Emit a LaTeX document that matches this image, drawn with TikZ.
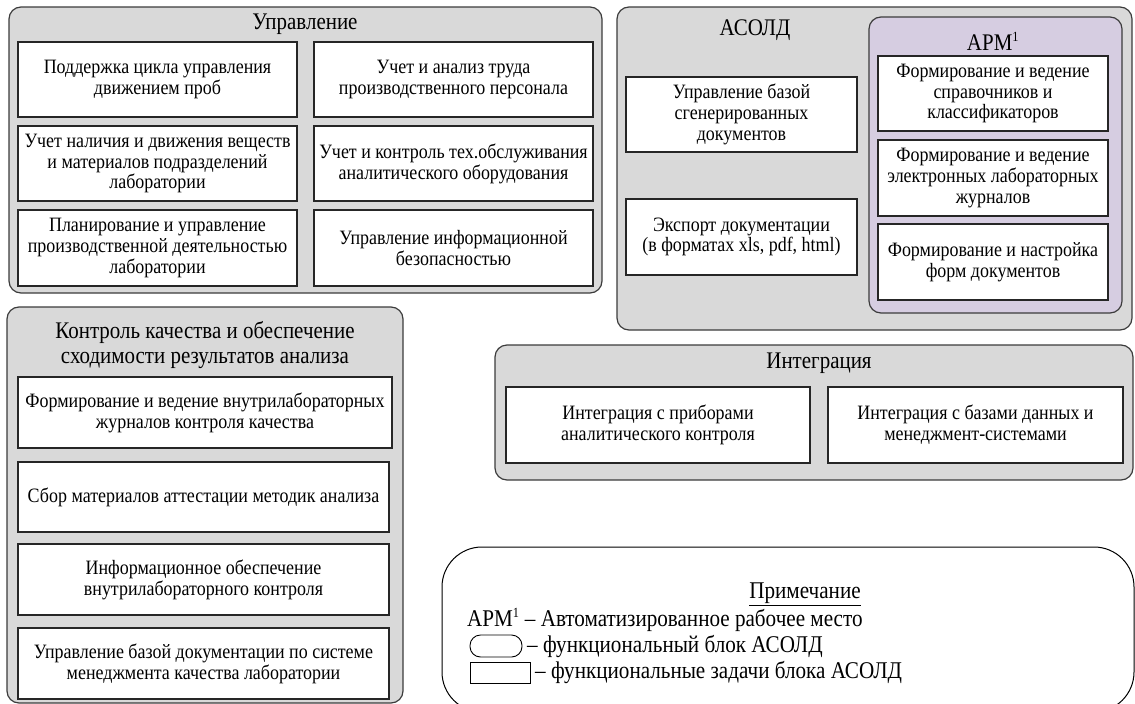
\documentclass[tikz,border=0pt]{standalone}
\usepackage{fontspec}
\setmainfont[FakeStretch=0.88]{Liberation Serif}
\definecolor{grpgray}{RGB}{217,217,217}
\definecolor{armfill}{RGB}{214,205,225}
\definecolor{edge}{RGB}{60,60,60}
\begin{document}
\begin{tikzpicture}[x=1pt,y=-1pt,
  grp/.style={draw=edge, fill=grpgray, rounded corners=12pt, line width=1.2pt},
  armgrp/.style={draw=edge, fill=armfill, rounded corners=12pt, line width=1.2pt},
  task/.style={draw=black!85, fill=white, line width=1.1pt, align=center,
    inner sep=0pt, font=\fontsize{20.4}{20.8}\selectfont},
  ttl/.style={align=center, inner sep=0pt, font=\fontsize{23.8}{25}\selectfont},
  note/.style={inner sep=0pt, font=\fontsize{24}{25}\selectfont}]
\useasboundingbox (0,0) rectangle (1135,704);

% ---- groups
\path[grp] (9,7) rectangle (602,293);
\path[grp] (617,7) rectangle (1132,330);
\path[armgrp] (869,17) rectangle (1122,313);
\path[grp] (7,307) rectangle (403,703);
\path[grp] (495,345) rectangle (1133,480);
\draw[line width=1pt, rounded corners=40pt] (442,547) rectangle (1134,712);

% ---- titles
\node[ttl] (tUpr) at (305,24) {Управление};
\node[ttl] (tAsold) at (755,30) {АСОЛД};
\node[ttl] (tArm) at (993,41) {АРМ\textsuperscript{\fontsize{14}{14}\selectfont 1}};
\node[ttl] (tKontr) at (205,345) {Контроль качества и обеспечение\\сходимости результатов анализа};
\node[ttl] (tInt) at (819,363) {Интеграция};

% ---- Управление
\node[task, minimum width=279pt, minimum height=75pt] (u1) at (157.5,79.5) {Поддержка цикла управления\\движением проб};
\node[task, minimum width=279pt, minimum height=75pt] (u2) at (157.5,163.5) {Учет наличия и движения веществ\\и материалов подразделений\\лаборатории};
\node[task, minimum width=279pt, minimum height=76pt] (u3) at (157.5,248) {Планирование и управление\\производственной деятельностью\\лаборатории};
\node[task, minimum width=279pt, minimum height=75pt] (u4) at (453.5,79.5) {Учет и анализ труда\\производственного персонала};
\node[task, minimum width=279pt, minimum height=75pt] (u5) at (453.5,163.5) {Учет и контроль тех.обслуживания\\аналитического оборудования};
\node[task, minimum width=279pt, minimum height=76pt] (u6) at (453.5,248) {Управление информационной\\безопасностью};

% ---- АСОЛД
\node[task, minimum width=231pt, minimum height=75pt] (a1) at (741.5,114.5) {Управление базой\\сгенерированных\\документов};
\node[task, minimum width=231pt, minimum height=76pt] (a2) at (741.5,237) {Экспорт документации\\(в форматах xls, pdf, html)};
\node[task, minimum width=230pt, minimum height=75pt] (r1) at (993,93.5) {Формирование и ведение\\справочников и\\классификаторов};
\node[task, minimum width=230pt, minimum height=76pt] (r2) at (993,178) {Формирование и ведение\\электронных лабораторных\\журналов};
\node[task, minimum width=230pt, minimum height=76pt] (r3) at (993,262) {Формирование и настройка\\форм документов};

% ---- Контроль качества
\node[task, minimum width=374pt, minimum height=71pt] (k1) at (205,412.5) {Формирование и ведение внутрилабораторных\\журналов контроля качества};
\node[task, minimum width=371pt, minimum height=70pt] (k2) at (203.5,497) {Сбор материалов аттестации методик анализа};
\node[task, minimum width=371pt, minimum height=71pt] (k3) at (203.5,579.5) {Информационное обеспечение\\внутрилабораторного контроля};
\node[task, minimum width=371pt, minimum height=71pt] (k4) at (203.5,663.5) {Управление базой документации по системе\\менеджмента качества лаборатории};

% ---- Интеграция
\node[task, minimum width=304pt, minimum height=76pt] (i1) at (658,425) {Интеграция с приборами\\аналитического контроля};
\node[task, minimum width=295pt, minimum height=76pt] (i2) at (975.5,425) {Интеграция с базами данных и\\менеджмент-системами};

% ---- Примечание
\node[note] (nTitle) at (805,594) {\underline{Примечание}};
\node[note, anchor=west] (nArm) at (467,620) {АРМ\textsuperscript{\fontsize{14}{14}\selectfont 1} – Автоматизированное рабочее место};
\node[draw=black, line width=0.9pt, rounded corners=10.5pt, minimum width=52pt, minimum height=22pt, inner sep=0pt] (legRound) at (496,646) {};
\node[note, anchor=west] (nRound) at (527,646) {– функциональный блок АСОЛД};
\node[draw=black, line width=0.9pt, minimum width=60pt, minimum height=21pt, inner sep=0pt] (legRect) at (500,672.5) {};
\node[note, anchor=west] (nRect) at (535,672.5) {– функциональные задачи блока АСОЛД};
\end{tikzpicture}
\end{document}
